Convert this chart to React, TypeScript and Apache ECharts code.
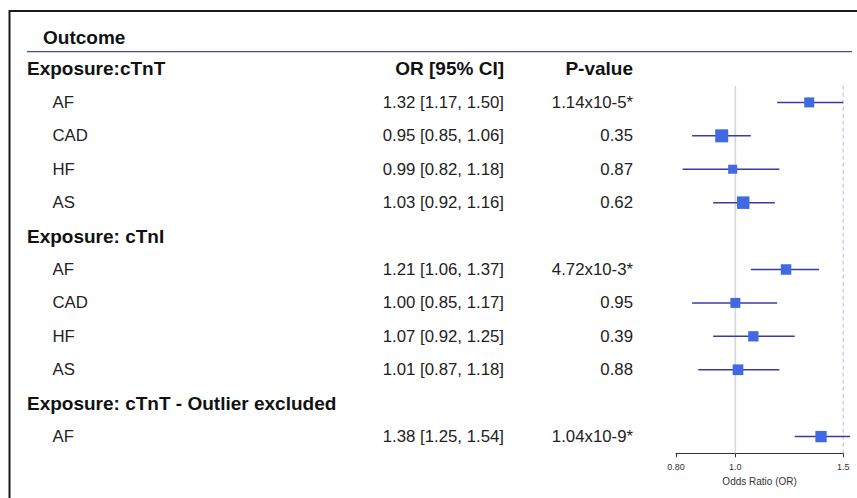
import React, { useEffect, useRef } from "react";
import * as echarts from "echarts";

const exposures = ["Exposure:cTnT", "Exposure: cTnI", "Exposure: cTnT - Outlier excluded"];
const outcomesByExposure = [
  ["AF", "CAD", "HF", "AS"],
  ["AF", "CAD", "HF", "AS"],
  ["AF"],
];
const orValues = [1.32, 0.95, 0.99, 1.03, 1.21, 1.0, 1.07, 1.01, 1.38];
const ciLower = [1.17, 0.85, 0.82, 0.92, 1.06, 0.85, 0.92, 0.87, 1.25];
const ciUpper = [1.5, 1.06, 1.18, 1.16, 1.37, 1.17, 1.25, 1.18, 1.54];
const pValues = ["1.14x10-5*", "0.35", "0.87", "0.62", "4.72x10-3*", "0.95", "0.39", "0.88", "1.04x10-9*"];
const boxWeights = [10, 13, 9, 12.5, 10.5, 10, 10.3, 10.7, 11.3];
const tickValues = [0.8, 1.0, 1.5];
const tickLabels = ["0.80", "1.0", "1.5"];
const refLines = [1.0, 1.5];

const FONT = "'Liberation Sans', Arial, Helvetica, sans-serif";

type Row = { row: number; kind: "header" | "item"; label: string; or?: string; p?: string; k?: number };

function buildRows(): Row[] {
  const rows: Row[] = [];
  let r = 0;
  let k = 0;
  exposures.forEach((ex, gi) => {
    rows.push({
      row: r,
      kind: "header",
      label: ex,
      or: gi === 0 ? "OR [95% CI]" : "",
      p: gi === 0 ? "P-value" : "",
    });
    r++;
    outcomesByExposure[gi].forEach((o) => {
      rows.push({
        row: r,
        kind: "item",
        label: o,
        or: `${orValues[k].toFixed(2)} [${ciLower[k].toFixed(2)}, ${ciUpper[k].toFixed(2)}]`,
        p: pValues[k],
        k,
      });
      r++;
      k++;
    });
  });
  return rows;
}

export default function App() {
  const ref = useRef<HTMLDivElement>(null);
  useEffect(() => {
    if (!ref.current) return;
    const chart = echarts.init(ref.current, undefined, { renderer: "svg" });
    const rows = buildRows();
    const nRows = rows.length;
    const items = rows.filter((r) => r.kind === "item");
    const ln = Math.log;
    const BOLD = 19;

    const option: any = {
      animation: false,
      textStyle: { fontFamily: FONT },
      grid: { left: 676, top: 85.7, width: 167.2, height: 367.6 },
      xAxis: {
        type: "value",
        min: ln(tickValues[0]),
        max: ln(tickValues[tickValues.length - 1]),
        splitLine: { show: false },
        axisLine: { show: true, lineStyle: { color: "#333", width: 1 } },
        axisTick: { show: true, length: 4, customValues: tickValues.map(ln), lineStyle: { color: "#333" } },
        axisLabel: {
          show: true,
          customValues: tickValues.map(ln),
          margin: 9,
          fontSize: 9,
          color: "#333",
          fontFamily: FONT,
          formatter: (v: number) => {
            const i = tickValues.findIndex((t) => Math.abs(ln(t) - v) < 1e-6);
            return i >= 0 ? tickLabels[i] : "";
          },
        },
        name: "Odds Ratio (OR)",
        nameLocation: "middle",
        nameGap: 22,
        nameTextStyle: { fontSize: 10, color: "#333", fontFamily: FONT },
      },
      yAxis: {
        type: "value",
        inverse: true,
        min: 0.5,
        max: nRows - 0.5,
        show: false,
      },
      graphic: [
        { type: "line", shape: { x1: 9, y1: 11, x2: 857, y2: 11 }, style: { stroke: "#1a1a1a", lineWidth: 2 } },
        { type: "line", shape: { x1: 9.5, y1: 10, x2: 9.5, y2: 498 }, style: { stroke: "#1a1a1a", lineWidth: 2 } },
        { type: "line", shape: { x1: 27, y1: 51.7, x2: 852, y2: 51.7 }, style: { stroke: "#4b4b88", lineWidth: 1.3 } },
        {
          type: "text",
          x: 43,
          y: 37.5,
          style: { text: "Outcome", fontSize: BOLD, fontWeight: "bold", fontFamily: FONT, fill: "#111", verticalAlign: "middle" },
        },
      ],
      series: [
        {
          type: "custom",
          clip: false,
          silent: true,
          data: refLines.map((v, i) => [ln(v), i]),
          encode: { x: 0 },
          renderItem: (params: any, api: any) => {
            const top = api.coord([api.value(0), 0.5]);
            const bot = api.coord([api.value(0), nRows - 0.5]);
            const dashed = params.dataIndex === 1;
            return {
              type: "line",
              shape: { x1: top[0], y1: top[1], x2: bot[0], y2: bot[1] },
              style: dashed
                ? { stroke: "#c4c4f2", lineWidth: 1.2, lineDash: [4, 3] }
                : { stroke: "#d6d6d6", lineWidth: 1.6 },
            };
          },
        },
        {
          type: "custom",
          clip: false,
          data: items.map((r) => [ln(ciLower[r.k!]), ln(ciUpper[r.k!]), ln(orValues[r.k!]), r.row, boxWeights[r.k!]]),
          encode: { x: [0, 1, 2], y: 3 },
          renderItem: (params: any, api: any) => {
            const row = api.value(3);
            const p1 = api.coord([api.value(0), row]);
            const p2 = api.coord([api.value(1), row]);
            const pc = api.coord([api.value(2), row]);
            const s = api.value(4);
            return {
              type: "group",
              children: [
                {
                  type: "line",
                  shape: { x1: p1[0], y1: p1[1], x2: p2[0], y2: p2[1] },
                  style: { stroke: "#3b3ba6", lineWidth: 1.5 },
                },
                {
                  type: "rect",
                  shape: { x: pc[0] - s / 2, y: pc[1] - s / 2, width: s, height: s },
                  style: { fill: "#4169e1" },
                },
              ],
            };
          },
        },
        {
          type: "custom",
          clip: false,
          data: rows.map((r) => [0, r.row]),
          encode: { x: 0, y: 1 },
          renderItem: (params: any, api: any) => {
            const r = rows[params.dataIndex];
            const y = api.coord([0, api.value(1)])[1];
            const bold = r.kind === "header";
            const fs = bold ? BOLD : 16.8;
            const mk = (text: string, x: number, align: string) => ({
              type: "text",
              x,
              y,
              style: {
                text,
                fontSize: fs,
                fontWeight: bold ? "bold" : "normal",
                fontFamily: FONT,
                fill: bold ? "#111" : "#222",
                align,
                verticalAlign: "middle",
              },
            });
            return {
              type: "group",
              children: [
                mk(r.label, bold ? 27 : 52.5, "left"),
                mk(r.or || "", 504, "right"),
                mk(r.p || "", 633, "right"),
              ],
            };
          },
        },
      ],
    };
    chart.setOption(option);
    return () => chart.dispose();
  }, []);
  return <div ref={ref} style={{ position: "absolute", left: 0, top: 0, width: 857, height: 498, background: "#fff" }} />;
}
